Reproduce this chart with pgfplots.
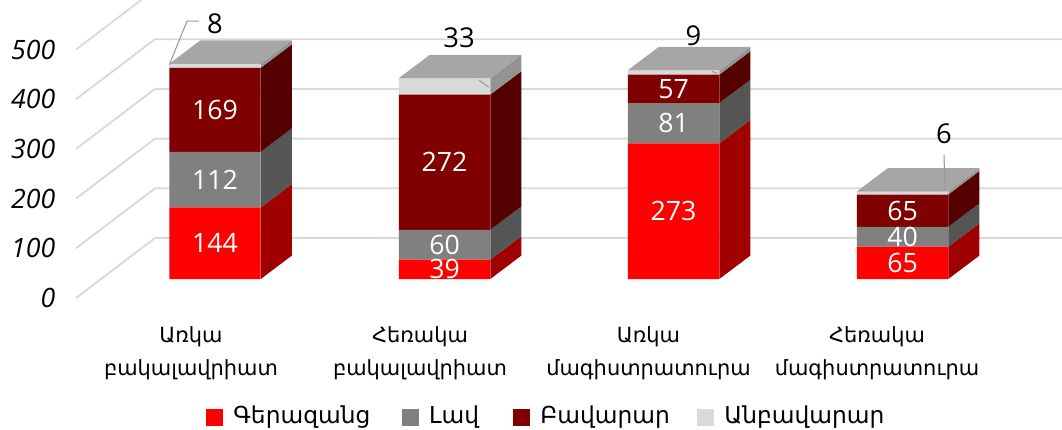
\documentclass[border=0pt]{standalone}
\usepackage{fontspec}
\usepackage{pgfplots}
\pgfplotsset{compat=1.18}
\setmainfont{DejaVu Sans}
\newfontfamily\numfont{Open Sans}
\definecolor{cRed}{HTML}{FF0000}
\definecolor{cRedS}{HTML}{A00000}
\definecolor{cGray}{HTML}{808080}
\definecolor{cGrayS}{HTML}{555555}
\definecolor{cDark}{HTML}{800000}
\definecolor{cDarkS}{HTML}{550000}
\definecolor{cLight}{HTML}{D9D9D9}
\definecolor{cLightS}{HTML}{939393}
\definecolor{cTop}{HTML}{A6A6A6}
\definecolor{cGrid}{HTML}{D9D9D9}
\definecolor{cLead}{HTML}{999999}
% one picture pixel = 0.75pt, every axis fills the page
\pgfplotsset{
  frame/.style={
    at={(0,0)}, anchor=south west,
    scale only axis, width=796.5pt, height=322.5pt,
    xmin=0, xmax=1062,
    axis line style={draw=none},
    tick style={draw=none},
    clip=true,
  },
  barframe/.style={frame, ymin=-303.8, ymax=561.4, xtick=\empty, ytick=\empty},
}
\begin{document}
\begin{tikzpicture}
% back wall and floor lines, y axis
\begin{axis}[
    frame, ymin=-265.6, ymax=599.6,
    xtick=\empty,
    ytick={0,100,200,300,400,500},
    /pgf/number format/assume math mode=true,
    yticklabel style={font=\fontsize{20}{22}\selectfont\numfont\itshape, anchor=east, xshift=45pt},
]
\addplot[cGrid, line width=1.4pt] coordinates {(76,0)(155,120.7)(1062,120.7)};
\addplot[cGrid, line width=1.4pt] coordinates {(76,100)(155,220.7)(1062,220.7)};
\addplot[cGrid, line width=1.4pt] coordinates {(76,200)(155,320.7)(1062,320.7)};
\addplot[cGrid, line width=1.4pt] coordinates {(76,300)(155,420.7)(1062,420.7)};
\addplot[cGrid, line width=1.4pt] coordinates {(76,400)(155,520.7)(1062,520.7)};
\addplot[cGrid, line width=1.4pt] coordinates {(76,500)(155,620.7)(1062,620.7)};
\end{axis}
% bar fronts
\begin{axis}[
    barframe,
    ybar stacked, bar width=68.6pt,
    xtick={191,420,648.5,877},
    xticklabels={{Առկա\\բակալավրիատ},{Հեռակա\\բակալավրիատ},{Առկա\\մագիստրատուրա},{Հեռակա\\մագիստրատուրա}},
    xticklabel style={font=\fontsize{15.7}{24.75}\selectfont, align=center, anchor=north, yshift=81pt},
    legend columns=4,
    legend cell align=left,
    legend style={draw=none, fill=none, at={(154.25pt,1.5pt)}, anchor=south west,
      inner sep=0pt, font=\fontsize{17.5}{20}\selectfont},
    legend image code/.code={\fill[#1] (0pt,-8pt) rectangle (12.6pt,4.5pt);},
]
\addplot[fill=cRed, draw=none] coordinates {(215,144)(444.5,39)(673.5,273)(902.5,65)};
\addlegendentry{\makebox[130.25pt][l]{\hspace{6pt}Գերազանց}}
\addplot[fill=cGray, draw=none] coordinates {(215,112)(444.5,60)(673.5,81)(902.5,40)};
\addlegendentry{\makebox[66.75pt][l]{\hspace{6pt}Լավ}}
\addplot[fill=cDark, draw=none] coordinates {(215,169)(444.5,272)(673.5,57)(902.5,65)};
\addlegendentry{\makebox[121.5pt][l]{\hspace{6pt}Բավարար}}
\addplot[fill=cLight, draw=none] coordinates {(215,8)(444.5,33)(673.5,9)(902.5,6)};
\addlegendentry{\makebox[118pt][l]{\hspace{6pt}Անբավարար}}
\end{axis}
% side and top faces, leader lines, value labels
\begin{axis}[barframe]
% bar 1
\addplot[fill=cRedS, draw=none] coordinates {(260.75,0)(291.75,47)(291.75,191)(260.75,144)} -- cycle;
\addplot[fill=cGrayS, draw=none] coordinates {(260.75,144)(291.75,191)(291.75,303)(260.75,256)} -- cycle;
\addplot[fill=cDarkS, draw=none] coordinates {(260.75,256)(291.75,303)(291.75,472)(260.75,425)} -- cycle;
\addplot[fill=cLightS, draw=none] coordinates {(260.75,425)(291.75,472)(291.75,480)(260.75,433)} -- cycle;
\addplot[fill=cTop, draw=none] coordinates {(169.25,433)(200.25,480)(291.75,480)(260.75,433)} -- cycle;
% bar 2
\addplot[fill=cRedS, draw=none] coordinates {(490.25,0)(521.25,47)(521.25,86)(490.25,39)} -- cycle;
\addplot[fill=cGrayS, draw=none] coordinates {(490.25,39)(521.25,86)(521.25,146)(490.25,99)} -- cycle;
\addplot[fill=cDarkS, draw=none] coordinates {(490.25,99)(521.25,146)(521.25,418)(490.25,371)} -- cycle;
\addplot[fill=cLightS, draw=none] coordinates {(490.25,371)(521.25,418)(521.25,451)(490.25,404)} -- cycle;
\addplot[fill=cTop, draw=none] coordinates {(398.75,404)(429.75,451)(521.25,451)(490.25,404)} -- cycle;
% bar 3
\addplot[fill=cRedS, draw=none] coordinates {(719.25,0)(750.25,47)(750.25,320)(719.25,273)} -- cycle;
\addplot[fill=cGrayS, draw=none] coordinates {(719.25,273)(750.25,320)(750.25,401)(719.25,354)} -- cycle;
\addplot[fill=cDarkS, draw=none] coordinates {(719.25,354)(750.25,401)(750.25,458)(719.25,411)} -- cycle;
\addplot[fill=cLightS, draw=none] coordinates {(719.25,411)(750.25,458)(750.25,467)(719.25,420)} -- cycle;
\addplot[fill=cTop, draw=none] coordinates {(627.75,420)(658.75,467)(750.25,467)(719.25,420)} -- cycle;
% bar 4
\addplot[fill=cRedS, draw=none] coordinates {(948.25,0)(979.25,47)(979.25,112)(948.25,65)} -- cycle;
\addplot[fill=cGrayS, draw=none] coordinates {(948.25,65)(979.25,112)(979.25,152)(948.25,105)} -- cycle;
\addplot[fill=cDarkS, draw=none] coordinates {(948.25,105)(979.25,152)(979.25,217)(948.25,170)} -- cycle;
\addplot[fill=cLightS, draw=none] coordinates {(948.25,170)(979.25,217)(979.25,223)(948.25,176)} -- cycle;
\addplot[fill=cTop, draw=none] coordinates {(856.75,176)(887.75,223)(979.25,223)(948.25,176)} -- cycle;
% leaders
\addplot[cLead, line width=0.8pt] coordinates {(198.8,519)(187,519)(169.3,431)};
\addplot[cLead, line width=0.8pt] coordinates {(479,400)(488.7,386)};
\addplot[cLead, line width=0.8pt] coordinates {(712,418)(717,414)};
\addplot[cLead, line width=0.8pt] coordinates {(944,250)(945,178)};
% value labels
\addplot[draw=none, mark=none, point meta=explicit symbolic, nodes near coords,
  nodes near coords style={font=\fontsize{20}{22}\selectfont\numfont, text=white, anchor=center, inner sep=0pt}]
  coordinates {(215,72)[144] (215,200)[112] (215,340.5)[169]
    (444.5,19.5)[39] (444.5,69)[60] (444.5,235)[272]
    (673.5,136.5)[273] (673.5,313.5)[81] (673.5,382.5)[57]
    (902.5,32.5)[65] (902.5,85)[40] (902.5,137.5)[65]};
\addplot[draw=none, mark=none, point meta=explicit symbolic, nodes near coords,
  nodes near coords style={font=\fontsize{20.5}{22}\selectfont\numfont, text=black, anchor=center, inner sep=0pt}]
  coordinates {(215,513)[8] (459,485)[33] (693.5,490)[9] (944,292)[6]};
\end{axis}
\end{tikzpicture}
\end{document}
